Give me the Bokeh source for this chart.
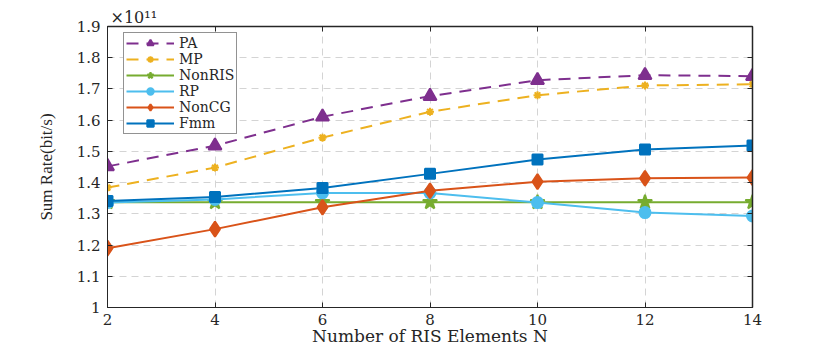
from bokeh.plotting import figure
from bokeh.models import (FixedTicker, CustomJSTickFormatter, LinearAxis, Title,
                          Range1d, Legend)
from bokeh.embed import file_html
from bokeh.resources import INLINE

# Data (sum rate in units of 1e11 bit/s)
N = [2, 4, 6, 8, 10, 12, 14]
pa = [1.452, 1.518, 1.611, 1.677, 1.728, 1.744, 1.741]
mp = [1.384, 1.448, 1.544, 1.627, 1.680, 1.711, 1.715]
nonris = [1.337, 1.337, 1.337, 1.337, 1.337, 1.337, 1.337]
rp = [1.336, 1.346, 1.367, 1.367, 1.336, 1.304, 1.293]
noncg = [1.190, 1.251, 1.321, 1.374, 1.403, 1.414, 1.416]
fmm = [1.341, 1.354, 1.383, 1.428, 1.474, 1.506, 1.519]

x_ticks = [2, 4, 6, 8, 10, 12, 14]
y_ticks = [1.0, 1.1, 1.2, 1.3, 1.4, 1.5, 1.6, 1.7, 1.8, 1.9]

SERIF = "DejaVu Serif"
AXC = "#262626"

p = figure(frame_width=645, frame_height=281, output_backend="svg", toolbar_location=None,
           x_range=Range1d(2, 14), y_range=Range1d(1.0, 1.9))
p.min_border_left = 107
p.min_border_right = 76
p.min_border_top = 26
p.min_border_bottom = 36
p.background_fill_color = "white"
p.border_fill_color = "white"
p.outline_line_color = AXC
p.outline_line_width = 1

fmt = CustomJSTickFormatter(code="return (Math.round(tick*10)/10).toString();")
blank = CustomJSTickFormatter(code="return '';")

for ax in (p.xaxis[0], p.yaxis[0]):
    ax.axis_line_color = AXC
    ax.major_tick_line_color = AXC
    ax.major_tick_in = 5
    ax.major_tick_out = 0
    ax.minor_tick_line_color = None
    ax.major_label_text_font = SERIF
    ax.major_label_text_font_size = "15px"
    ax.major_label_text_color = "#262626"
    ax.axis_label_text_font_style = "normal"

p.xaxis.ticker = FixedTicker(ticks=x_ticks)
p.yaxis.ticker = FixedTicker(ticks=y_ticks)
p.yaxis.formatter = fmt
p.xaxis.major_label_standoff = 6
p.yaxis.major_label_standoff = 7
p.xaxis.major_label_text_line_height = 1.0

p.xaxis.axis_label = "Number of RIS Elements N"
p.xaxis.axis_label_text_font = SERIF
p.xaxis.axis_label_text_font_size = "17px"
p.xaxis.axis_label_text_line_height = 1.0
p.xaxis.axis_label_standoff = -2
p.xaxis.axis_label_text_color = "#262626"

p.yaxis.axis_label = "Sum Rate(bit/s)"
p.yaxis.axis_label_text_font = "Liberation Serif"
p.yaxis.axis_label_text_font_size = "17px"
p.yaxis.axis_label_standoff = 18
p.yaxis.axis_label_text_color = "#262626"

# box axes (top and right) with ticks only
top = LinearAxis(ticker=FixedTicker(ticks=x_ticks), formatter=blank)
right = LinearAxis(ticker=FixedTicker(ticks=y_ticks), formatter=blank)
for ax in (top, right):
    ax.axis_line_color = AXC
    ax.axis_line_width = 1.5
    ax.major_tick_line_color = AXC
    ax.major_tick_in = 5
    ax.major_tick_out = 0
    ax.minor_tick_line_color = None
    ax.major_label_text_font_size = "1px"
    ax.major_label_standoff = 0
p.add_layout(top, "above")
p.add_layout(right, "right")
p.xaxis[0].axis_line_width = 1.5

# exponent marker above the axes
p.add_layout(Title(text="×10¹¹", align="left", text_font=SERIF,
                   text_font_size="16px", text_font_style="normal",
                   text_line_height=1.0,
                   text_color="#262626", standoff=0, offset=3), "above")

p.xgrid.ticker = FixedTicker(ticks=x_ticks)
p.ygrid.ticker = FixedTicker(ticks=y_ticks)
p.grid.grid_line_color = "#d4d4d4"
p.grid.grid_line_dash = "7 5"
p.grid.grid_line_width = 1

series = [
    ("PA", pa, "#7E2F8E", "12 8", "triangle", 13),
    ("MP", mp, "#EDB120", "12 8", "asterisk", 8),
    ("NonRIS", nonris, "#77AC30", "solid", "star", 15),
    ("RP", rp, "#4DBEEE", "solid", "circle", 11),
    ("NonCG", noncg, "#D95319", "solid", "diamond", 15),
    ("Fmm", fmm, "#0072BD", "solid", "square", 10),
]

items = []
for name, ys, col, dash, mk, sz in series:
    r1 = p.line(N, ys, line_color=col, line_width=2, line_dash=dash)
    r2 = p.scatter(N, ys, marker=mk, size=sz, fill_color=col, line_color=col,
                   line_width=2)
    items.append((name, [r1, r2]))

legend = Legend(items=items, location=(16, 173))
legend.label_text_font = SERIF
legend.label_text_font_size = "14px"
legend.label_text_color = "#262626"
legend.label_height = 16
legend.glyph_height = 16
legend.glyph_width = 48
legend.spacing = 0
legend.padding = 2
legend.margin = 0
legend.label_standoff = 5
legend.border_line_color = AXC
legend.border_line_width = 1.5
legend.background_fill_color = "white"
legend.background_fill_alpha = 1
p.add_layout(legend, "center")

open("out.html", "w").write(file_html(p, INLINE))
